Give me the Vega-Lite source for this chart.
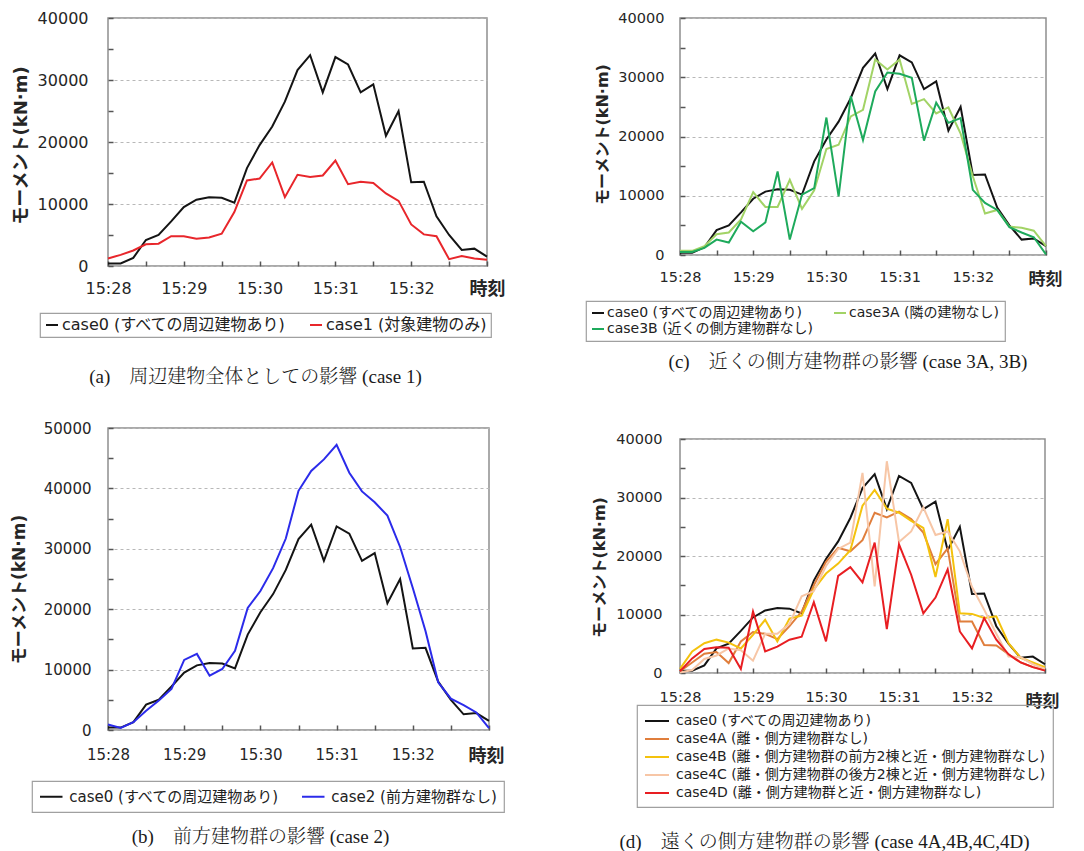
{
"$schema": "https://vega.github.io/schema/vega-lite/v6.json",
"background": "white",
"padding": {"left": 9, "top": 9, "right": 2, "bottom": 0},
"data": {"values": [
{"s":"c0","t":0,"v":400},{"s":"c0","t":10,"v":400},{"s":"c0","t":20,"v":1300},{"s":"c0","t":30,"v":4200},{"s":"c0","t":40,"v":5000},{"s":"c0","t":50,"v":7200},{"s":"c0","t":60,"v":9500},{"s":"c0","t":70,"v":10700},{"s":"c0","t":80,"v":11100},{"s":"c0","t":90,"v":11000},{"s":"c0","t":100,"v":10200},{"s":"c0","t":110,"v":15800},{"s":"c0","t":120,"v":19500},{"s":"c0","t":130,"v":22500},{"s":"c0","t":140,"v":26500},{"s":"c0","t":150,"v":31600},{"s":"c0","t":160,"v":34000},{"s":"c0","t":170,"v":28000},{"s":"c0","t":180,"v":33700},{"s":"c0","t":190,"v":32500},{"s":"c0","t":200,"v":28000},{"s":"c0","t":210,"v":29300},{"s":"c0","t":220,"v":21000},{"s":"c0","t":230,"v":25000},{"s":"c0","t":240,"v":13500},{"s":"c0","t":250,"v":13600},{"s":"c0","t":260,"v":8000},{"s":"c0","t":270,"v":5000},{"s":"c0","t":280,"v":2600},{"s":"c0","t":290,"v":2800},{"s":"c0","t":300,"v":1500},
{"s":"c1","t":0,"v":1200},{"s":"c1","t":10,"v":1800},{"s":"c1","t":20,"v":2500},{"s":"c1","t":30,"v":3500},{"s":"c1","t":40,"v":3600},{"s":"c1","t":50,"v":4800},{"s":"c1","t":60,"v":4800},{"s":"c1","t":70,"v":4400},{"s":"c1","t":80,"v":4600},{"s":"c1","t":90,"v":5200},{"s":"c1","t":100,"v":8700},{"s":"c1","t":110,"v":13800},{"s":"c1","t":120,"v":14100},{"s":"c1","t":130,"v":16700},{"s":"c1","t":140,"v":11100},{"s":"c1","t":150,"v":14700},{"s":"c1","t":160,"v":14350},{"s":"c1","t":170,"v":14600},{"s":"c1","t":180,"v":17000},{"s":"c1","t":190,"v":13200},{"s":"c1","t":200,"v":13600},{"s":"c1","t":210,"v":13400},{"s":"c1","t":220,"v":11700},{"s":"c1","t":230,"v":10500},{"s":"c1","t":240,"v":6700},{"s":"c1","t":250,"v":5100},{"s":"c1","t":260,"v":4800},{"s":"c1","t":270,"v":1100},{"s":"c1","t":280,"v":1600},{"s":"c1","t":290,"v":1200},{"s":"c1","t":300,"v":1000},
{"s":"c2","t":0,"v":900},{"s":"c2","t":10,"v":350},{"s":"c2","t":20,"v":1300},{"s":"c2","t":30,"v":3200},{"s":"c2","t":40,"v":4900},{"s":"c2","t":50,"v":6800},{"s":"c2","t":60,"v":11600},{"s":"c2","t":70,"v":12600},{"s":"c2","t":80,"v":9000},{"s":"c2","t":90,"v":10100},{"s":"c2","t":100,"v":13100},{"s":"c2","t":110,"v":20200},{"s":"c2","t":120,"v":23000},{"s":"c2","t":130,"v":26800},{"s":"c2","t":140,"v":31700},{"s":"c2","t":150,"v":39600},{"s":"c2","t":160,"v":42900},{"s":"c2","t":170,"v":44800},{"s":"c2","t":180,"v":47200},{"s":"c2","t":190,"v":42600},{"s":"c2","t":200,"v":39500},{"s":"c2","t":210,"v":37700},{"s":"c2","t":220,"v":35500},{"s":"c2","t":230,"v":30300},{"s":"c2","t":240,"v":23500},{"s":"c2","t":250,"v":16400},{"s":"c2","t":260,"v":7900},{"s":"c2","t":270,"v":5200},{"s":"c2","t":280,"v":4100},{"s":"c2","t":290,"v":2900},{"s":"c2","t":300,"v":300},
{"s":"c3A","t":0,"v":700},{"s":"c3A","t":10,"v":700},{"s":"c3A","t":20,"v":1500},{"s":"c3A","t":30,"v":3500},{"s":"c3A","t":40,"v":3800},{"s":"c3A","t":50,"v":6000},{"s":"c3A","t":60,"v":10600},{"s":"c3A","t":70,"v":8100},{"s":"c3A","t":80,"v":8100},{"s":"c3A","t":90,"v":12700},{"s":"c3A","t":100,"v":7800},{"s":"c3A","t":110,"v":10900},{"s":"c3A","t":120,"v":17900},{"s":"c3A","t":130,"v":18600},{"s":"c3A","t":140,"v":23400},{"s":"c3A","t":150,"v":24500},{"s":"c3A","t":160,"v":33000},{"s":"c3A","t":170,"v":31300},{"s":"c3A","t":180,"v":33000},{"s":"c3A","t":190,"v":25500},{"s":"c3A","t":200,"v":26300},{"s":"c3A","t":210,"v":23900},{"s":"c3A","t":220,"v":24900},{"s":"c3A","t":230,"v":20500},{"s":"c3A","t":240,"v":13300},{"s":"c3A","t":250,"v":7000},{"s":"c3A","t":260,"v":7600},{"s":"c3A","t":270,"v":4800},{"s":"c3A","t":280,"v":4600},{"s":"c3A","t":290,"v":4100},{"s":"c3A","t":300,"v":1500},
{"s":"c3B","t":0,"v":500},{"s":"c3B","t":10,"v":500},{"s":"c3B","t":20,"v":1200},{"s":"c3B","t":30,"v":2600},{"s":"c3B","t":40,"v":2100},{"s":"c3B","t":50,"v":5600},{"s":"c3B","t":60,"v":4000},{"s":"c3B","t":70,"v":5500},{"s":"c3B","t":80,"v":14100},{"s":"c3B","t":90,"v":2600},{"s":"c3B","t":100,"v":10200},{"s":"c3B","t":110,"v":11300},{"s":"c3B","t":120,"v":23200},{"s":"c3B","t":130,"v":9900},{"s":"c3B","t":140,"v":26800},{"s":"c3B","t":150,"v":19400},{"s":"c3B","t":160,"v":27600},{"s":"c3B","t":170,"v":30800},{"s":"c3B","t":180,"v":30600},{"s":"c3B","t":190,"v":29900},{"s":"c3B","t":200,"v":19300},{"s":"c3B","t":210,"v":25700},{"s":"c3B","t":220,"v":22300},{"s":"c3B","t":230,"v":23100},{"s":"c3B","t":240,"v":11000},{"s":"c3B","t":250,"v":8800},{"s":"c3B","t":260,"v":7600},{"s":"c3B","t":270,"v":4700},{"s":"c3B","t":280,"v":3800},{"s":"c3B","t":290,"v":3000},{"s":"c3B","t":300,"v":100},
{"s":"c4A","t":0,"v":300},{"s":"c4A","t":10,"v":1800},{"s":"c4A","t":20,"v":3300},{"s":"c4A","t":30,"v":3600},{"s":"c4A","t":40,"v":1700},{"s":"c4A","t":50,"v":5400},{"s":"c4A","t":60,"v":7000},{"s":"c4A","t":70,"v":6700},{"s":"c4A","t":80,"v":5800},{"s":"c4A","t":90,"v":8000},{"s":"c4A","t":100,"v":10500},{"s":"c4A","t":110,"v":15000},{"s":"c4A","t":120,"v":19000},{"s":"c4A","t":130,"v":21400},{"s":"c4A","t":140,"v":20800},{"s":"c4A","t":150,"v":22700},{"s":"c4A","t":160,"v":27400},{"s":"c4A","t":170,"v":26600},{"s":"c4A","t":180,"v":27600},{"s":"c4A","t":190,"v":26300},{"s":"c4A","t":200,"v":24000},{"s":"c4A","t":210,"v":18600},{"s":"c4A","t":220,"v":21300},{"s":"c4A","t":230,"v":8800},{"s":"c4A","t":240,"v":8800},{"s":"c4A","t":250,"v":4800},{"s":"c4A","t":260,"v":4700},{"s":"c4A","t":270,"v":3200},{"s":"c4A","t":280,"v":1800},{"s":"c4A","t":290,"v":1000},{"s":"c4A","t":300,"v":500},
{"s":"c4B","t":0,"v":700},{"s":"c4B","t":10,"v":3700},{"s":"c4B","t":20,"v":5100},{"s":"c4B","t":30,"v":5700},{"s":"c4B","t":40,"v":5200},{"s":"c4B","t":50,"v":4200},{"s":"c4B","t":60,"v":6500},{"s":"c4B","t":70,"v":9100},{"s":"c4B","t":80,"v":5400},{"s":"c4B","t":90,"v":9300},{"s":"c4B","t":100,"v":9800},{"s":"c4B","t":110,"v":14300},{"s":"c4B","t":120,"v":17000},{"s":"c4B","t":130,"v":18700},{"s":"c4B","t":140,"v":21000},{"s":"c4B","t":150,"v":28600},{"s":"c4B","t":160,"v":31300},{"s":"c4B","t":170,"v":28100},{"s":"c4B","t":180,"v":27400},{"s":"c4B","t":190,"v":26000},{"s":"c4B","t":200,"v":24800},{"s":"c4B","t":210,"v":16400},{"s":"c4B","t":220,"v":26300},{"s":"c4B","t":230,"v":10200},{"s":"c4B","t":240,"v":10100},{"s":"c4B","t":250,"v":9400},{"s":"c4B","t":260,"v":9700},{"s":"c4B","t":270,"v":5100},{"s":"c4B","t":280,"v":2600},{"s":"c4B","t":290,"v":1800},{"s":"c4B","t":300,"v":1000},
{"s":"c4C","t":0,"v":100},{"s":"c4C","t":10,"v":500},{"s":"c4C","t":20,"v":2400},{"s":"c4C","t":30,"v":3000},{"s":"c4C","t":40,"v":4200},{"s":"c4C","t":50,"v":3900},{"s":"c4C","t":60,"v":2100},{"s":"c4C","t":70,"v":6700},{"s":"c4C","t":80,"v":6700},{"s":"c4C","t":90,"v":8400},{"s":"c4C","t":100,"v":13100},{"s":"c4C","t":110,"v":14000},{"s":"c4C","t":120,"v":18300},{"s":"c4C","t":130,"v":21200},{"s":"c4C","t":140,"v":22300},{"s":"c4C","t":150,"v":34200},{"s":"c4C","t":160,"v":14800},{"s":"c4C","t":170,"v":36200},{"s":"c4C","t":180,"v":22400},{"s":"c4C","t":190,"v":24200},{"s":"c4C","t":200,"v":28300},{"s":"c4C","t":210,"v":23600},{"s":"c4C","t":220,"v":24200},{"s":"c4C","t":230,"v":20800},{"s":"c4C","t":240,"v":14700},{"s":"c4C","t":250,"v":10800},{"s":"c4C","t":260,"v":6700},{"s":"c4C","t":270,"v":2800},{"s":"c4C","t":280,"v":2700},{"s":"c4C","t":290,"v":1500},{"s":"c4C","t":300,"v":700},
{"s":"c4D","t":0,"v":300},{"s":"c4D","t":10,"v":2500},{"s":"c4D","t":20,"v":4100},{"s":"c4D","t":30,"v":4400},{"s":"c4D","t":40,"v":4300},{"s":"c4D","t":50,"v":700},{"s":"c4D","t":60,"v":10500},{"s":"c4D","t":70,"v":3700},{"s":"c4D","t":80,"v":4500},{"s":"c4D","t":90,"v":5700},{"s":"c4D","t":100,"v":6200},{"s":"c4D","t":110,"v":12100},{"s":"c4D","t":120,"v":5400},{"s":"c4D","t":130,"v":16600},{"s":"c4D","t":140,"v":18100},{"s":"c4D","t":150,"v":15500},{"s":"c4D","t":160,"v":22300},{"s":"c4D","t":170,"v":7500},{"s":"c4D","t":180,"v":22000},{"s":"c4D","t":190,"v":16800},{"s":"c4D","t":200,"v":10200},{"s":"c4D","t":210,"v":12900},{"s":"c4D","t":220,"v":17700},{"s":"c4D","t":230,"v":7100},{"s":"c4D","t":240,"v":4200},{"s":"c4D","t":250,"v":9400},{"s":"c4D","t":260,"v":5700},{"s":"c4D","t":270,"v":3200},{"s":"c4D","t":280,"v":1800},{"s":"c4D","t":290,"v":1000},{"s":"c4D","t":300,"v":400}
]},
"config": {
  "view": {"stroke": "#8f8f8f", "strokeWidth": 1.5},
  "axis": {"labelFont": "DejaVu Sans", "labelColor": "#262626", "titleFont": "DejaVu Sans, Noto Sans CJK JP", "titleColor": "#262626", "titleFontWeight": "bold", "tickColor": "#555555", "tickWidth": 1.5, "domain": false, "labelFlush": false, "labelOverlap": false, "labelBound": false},
  "legend": {"labelFont": "DejaVu Sans, Noto Sans CJK JP", "labelColor": "#222222", "strokeColor": "#a0a0a0", "strokeWidth": 1.2, "symbolType": "stroke", "symbolStrokeWidth": 2, "labelLimit": 600, "labelOffset": 2},
  "title": {"font": "Liberation Serif, Noto Serif CJK JP, Noto Sans CJK JP, serif", "fontSize": 19, "fontWeight": 300, "color": "#1a1a1a"},
  "line": {"strokeWidth": 2}
},
"resolve": {"scale": {"color": "independent", "x": "independent", "y": "independent"}, "legend": {"color": "independent"}},
"spacing": 78,
"hconcat": [
 {"vconcat": [
  {"width": 379, "height": 248,
   "transform": [{"filter": {"field": "s", "oneOf": ["c0", "c1"]}}],
   "mark": {"type": "line", "strokeWidth": 2},
   "encoding": {
    "x": {"field": "t", "type": "quantitative", "scale": {"domain": [0, 300], "nice": false, "zero": false},
      "axis": {"values": [0,30,60,90,120,150,180,210,240,270,300], "labelExpr": "datum.value % 60 == 0 && datum.value < 300 ? '15:' + (28 + datum.value / 60) : ''", "labelFontSize": 16, "labelPadding": 19, "tickSize": -5, "grid": false, "title": "時刻", "titleFontSize": 18, "titleX": 379, "titleY": 14, "titleAlign": "center", "titleBaseline": "top"}},
    "y": {"field": "v", "type": "quantitative", "scale": {"domain": [0, 40000], "nice": false},
      "axis": {"values": [0,5000,10000,15000,20000,25000,30000,35000,40000], "labelExpr": "datum.value % 10000 == 0 ? '' + datum.value : ''", "labelFontSize": 16, "labelPadding": 25, "tickSize": -5, "grid": true, "gridDash": [3, 3], "gridColor": "#b8b8b8", "gridOpacity": {"condition": {"test": "datum.value % 10000 == 0", "value": 1}, "value": 0}, "title": "モーメント(kN·m)", "titleFontSize": 18, "titlePadding": 7, "titleY": 127}},
    "color": {"field": "s", "type": "nominal", "scale": {"domain": ["c0", "c1"], "range": ["#141414", "#e8262b"]},
      "legend": {"title": null, "orient": "none", "legendX": -68, "legendY": 295, "direction": "horizontal", "columns": 2, "padding": 4, "labelFontSize": 16, "symbolSize": 144, "columnPadding": 19,
        "labelExpr": "datum.label == 'c0' ? 'case0 (すべての周辺建物あり)' : 'case1 (対象建物のみ)'"}}
   },
   "title": {"text": "(a)　周辺建物全体としての影響 (case 1)", "orient": "bottom", "anchor": "middle", "frame": "group", "offset": 30, "dx": -42}
  },
  {"width": 381, "height": 302,
   "transform": [{"filter": {"field": "s", "oneOf": ["c0", "c2"]}}],
   "mark": {"type": "line", "strokeWidth": 2},
   "encoding": {
    "x": {"field": "t", "type": "quantitative", "scale": {"domain": [0, 300], "nice": false, "zero": false},
      "axis": {"values": [0,30,60,90,120,150,180,210,240,270,300], "labelExpr": "datum.value % 60 == 0 && datum.value < 300 ? '15:' + (28 + datum.value / 60) : ''", "labelFontSize": 15, "labelPadding": 22, "tickSize": -5, "grid": false, "title": "時刻", "titleFontSize": 18, "titleX": 378, "titleY": 17, "titleAlign": "center", "titleBaseline": "top"}},
    "y": {"field": "v", "type": "quantitative", "scale": {"domain": [0, 50000], "nice": false},
      "axis": {"values": [0,5000,10000,15000,20000,25000,30000,35000,40000,45000,50000], "labelExpr": "datum.value % 10000 == 0 ? '' + datum.value : ''", "labelFontSize": 15, "labelPadding": 22, "tickSize": -5, "grid": true, "gridDash": [3, 3], "gridColor": "#b8b8b8", "gridOpacity": {"condition": {"test": "datum.value % 10000 == 0", "value": 1}, "value": 0}, "title": "モーメント(kN·m)", "titleFontSize": 17, "titlePadding": 15, "titleY": 161}},
    "color": {"field": "s", "type": "nominal", "scale": {"domain": ["c0", "c2"], "range": ["#141414", "#2b2bea"]},
      "legend": {"title": null, "orient": "none", "legendX": -76, "legendY": 353, "direction": "horizontal", "columns": 2, "padding": 7, "labelFontSize": 15, "symbolType": "M-1.5,0L1.5,0", "symbolSize": 225, "symbolOffset": 3.75, "labelOffset": 9.5, "columnPadding": 18,
        "labelExpr": "datum.label == 'c0' ? 'case0 (すべての周辺建物あり)' : 'case2 (前方建物群なし)'"}}
   },
   "title": {"text": "(b)　前方建物群の影響 (case 2)", "orient": "bottom", "anchor": "middle", "frame": "group", "offset": 15, "dx": -38}
  }
 ], "spacing": 162, "bounds": "flush",
 "resolve": {"scale": {"color": "independent", "x": "independent", "y": "independent"}, "legend": {"color": "independent"}}},
 {"vconcat": [
  {"width": 366, "height": 237,
   "transform": [{"filter": {"field": "s", "oneOf": ["c0", "c3A", "c3B"]}}],
   "mark": {"type": "line", "strokeWidth": 2},
   "encoding": {
    "x": {"field": "t", "type": "quantitative", "scale": {"domain": [0, 300], "nice": false, "zero": false},
      "axis": {"values": [0,30,60,90,120,150,180,210,240,270,300], "labelExpr": "datum.value % 60 == 0 && datum.value < 300 ? '15:' + (28 + datum.value / 60) : ''", "labelFontSize": 14.5, "labelPadding": 20, "tickSize": -5, "grid": false, "title": "時刻", "titleFontSize": 17, "titleX": 365, "titleY": 16, "titleAlign": "center", "titleBaseline": "top"}},
    "y": {"field": "v", "type": "quantitative", "scale": {"domain": [0, 40000], "nice": false},
      "axis": {"values": [0,5000,10000,15000,20000,25000,30000,35000,40000], "labelExpr": "datum.value % 10000 == 0 ? '' + datum.value : ''", "labelFontSize": 14.5, "labelPadding": 21, "tickSize": -5, "grid": true, "gridDash": [3, 3], "gridColor": "#b8b8b8", "gridOpacity": {"condition": {"test": "datum.value % 10000 == 0", "value": 1}, "value": 0}, "title": "モーメント(kN·m)", "titleFontSize": 16, "titlePadding": 7, "titleY": 116}},
    "color": {"field": "s", "type": "nominal", "scale": {"domain": ["c0", "c3A", "c3B"], "range": ["#141414", "#a2d366", "#1eaa5c"]},
      "legend": {"title": null, "orient": "none", "legendX": -94, "legendY": 283, "direction": "horizontal", "columns": 2, "padding": 5, "labelFontSize": 14, "symbolSize": 144, "columnPadding": 16, "rowPadding": 2,
        "labelExpr": "datum.label == 'c0' ? 'case0 (すべての周辺建物あり)' : datum.label == 'c3A' ? 'case3A (隣の建物なし)' : 'case3B (近くの側方建物群なし)'"}}
   },
   "title": {"text": "(c)　近くの側方建物群の影響 (case 3A, 3B)", "orient": "bottom", "anchor": "middle", "frame": "group", "offset": 11, "dx": -15}
  },
  {"width": 365, "height": 234,
   "transform": [{"filter": {"field": "s", "oneOf": ["c0", "c4A", "c4B", "c4C", "c4D"]}}],
   "mark": {"type": "line", "strokeWidth": 2},
   "encoding": {
    "x": {"field": "t", "type": "quantitative", "scale": {"domain": [0, 300], "nice": false, "zero": false},
      "axis": {"values": [0,30,60,90,120,150,180,210,240,270,300], "labelExpr": "datum.value % 60 == 0 && datum.value < 300 ? '15:' + (28 + datum.value / 60) : ''", "labelFontSize": 14.5, "labelPadding": 22, "tickSize": -5, "grid": false, "title": "時刻", "titleFontSize": 17, "titleX": 362, "titleY": 20, "titleAlign": "center", "titleBaseline": "top"}},
    "y": {"field": "v", "type": "quantitative", "scale": {"domain": [0, 40000], "nice": false},
      "axis": {"values": [0,5000,10000,15000,20000,25000,30000,35000,40000], "labelExpr": "datum.value % 10000 == 0 ? '' + datum.value : ''", "labelFontSize": 14.5, "labelPadding": 23, "tickSize": -5, "grid": true, "gridDash": [3, 3], "gridColor": "#b8b8b8", "gridOpacity": {"condition": {"test": "datum.value % 10000 == 0", "value": 1}, "value": 0}, "title": "モーメント(kN·m)", "titleFontSize": 16, "titlePadding": 8, "titleY": 128}},
    "color": {"field": "s", "type": "nominal", "scale": {"domain": ["c0", "c4A", "c4B", "c4C", "c4D"], "range": ["#141414", "#e07e3c", "#f4c20d", "#f7c6a6", "#e81e22"]},
      "legend": {"title": null, "orient": "none", "legendX": -43, "legendY": 266, "direction": "vertical", "columns": 1, "padding": 7, "labelFontSize": 14, "symbolType": "M-1.5,0L1.5,0", "symbolSize": 256, "symbolOffset": 4, "labelOffset": 10, "rowPadding": 2,
        "labelExpr": "datum.label == 'c0' ? 'case0 (すべての周辺建物あり)' : datum.label == 'c4A' ? 'case4A (離・側方建物群なし)' : datum.label == 'c4B' ? 'case4B (離・側方建物群の前方2棟と近・側方建物群なし)' : datum.label == 'c4C' ? 'case4C (離・側方建物群の後方2棟と近・側方建物群なし)' : 'case4D (離・側方建物群と近・側方建物群なし)'"}}
   },
   "title": {"text": "(d)　遠くの側方建物群の影響 (case 4A,4B,4C,4D)", "orient": "bottom", "anchor": "middle", "frame": "group", "offset": 25, "dx": -38}
  }
 ], "spacing": 184, "bounds": "flush",
 "resolve": {"scale": {"color": "independent", "x": "independent", "y": "independent"}, "legend": {"color": "independent"}}}
]
}
